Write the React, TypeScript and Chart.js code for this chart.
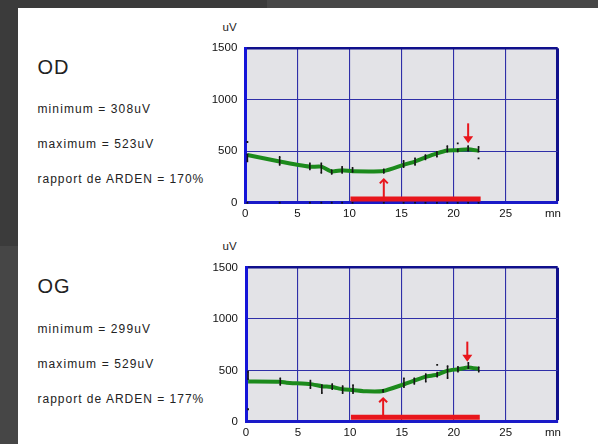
import React, { useEffect, useRef } from "react";
import { Chart, registerables } from "chart.js";
Chart.register(...registerables);

// ---------- data ----------
const xTicks = [0, 5, 10, 15, 20, 25, 30];
const xTickLabels = ["0", "5", "10", "15", "20", "25", "mn   "];
const yTicks = [0, 500, 1000, 1500];

// OD (right eye)
const odTitle = "OD";
const odStats = ["minimum = 308uV", "maximum = 523uV", "rapport de ARDEN = 170%"];
const odTimes = [0.2, 3.3, 6.2, 7.3, 8.3, 9.3, 10.3, 13.3, 15.2, 16.3, 17.3, 18.4, 19.4, 20.4, 21.4, 22.4];
const odValues = [463, 400, 350, 350, 302, 315, 305, 308, 368, 400, 440, 480, 508, 510, 520, 505];
const odErrLo = [400, 366, 324, 290, 279, 290, 298, 288, 344, 366, 421, 447, 495, 498, 505, 495];
const odErrHi = [470, 445, 382, 382, 318, 350, 340, 324, 408, 431, 463, 495, 550, 520, 550, 544];
const odDotX = [0.2, 20.4, 22.4];
const odDotY = [590, 577, 431];
const odAxisDotX = [0.2, 3.3, 6.2, 7.3, 8.3, 9.3, 10.3, 13.3, 15.2, 16.3, 17.3, 18.4, 19.4, 20.4, 21.4, 22.4];
const odLightX = [10.1, 22.6];
const odLightY = [36, 36];
const odUpX = 13.3;
const odUpY = [36, 227];
const odDownX = 21.4;
const odDownY = [771, 577];

// OG (left eye)
const ogTitle = "OG";
const ogStats = ["minimum = 299uV", "maximum = 529uV", "rapport de ARDEN = 177%"];
const ogTimes = [0.2, 3.3, 3.9, 6.2, 7.3, 8.3, 9.3, 10.3, 11.6, 13.2, 15.2, 16.2, 17.3, 18.4, 19.4, 20.4, 21.4, 22.4];
const ogValues = [392, 390, 380, 366, 346, 338, 316, 309, 296, 299, 364, 400, 439, 458, 497, 511, 529, 515];
const ogErrT = [0.2, 3.3, 6.2, 7.3, 8.3, 9.3, 10.3, 13.2, 15.2, 16.2, 17.3, 18.4, 19.4, 20.4, 21.4, 22.4];
const ogErrLo = [413, 358, 326, 277, 316, 277, 277, 290, 335, 368, 390, 439, 423, 488, 520, 488];
const ogErrHi = [488, 423, 400, 358, 368, 348, 358, 310, 423, 423, 465, 478, 543, 536, 575, 530];
const ogDotX = [0.2, 18.4];
const ogDotY = [121, 553];
const ogAxisDotX: number[] = [];
const ogLightX = [10.1, 22.5];
const ogLightY = [43, 43];
const ogUpX = 13.2;
const ogUpY = [43, 228];
const ogDownX = 21.3;
const ogDownY = [780, 585];

// ---------- styles ----------
const FONT = "'Liberation Sans', Arial, sans-serif";
const RED = "#e8161c";
const GREEN = "#1c8a1c";

function makeArrowPlugin(upX: number, upY: number[], downX: number, downY: number[]) {
  return {
    id: "redArrows",
    afterDatasetsDraw(chart: any) {
      const { ctx, scales } = chart;
      const x = scales.x;
      const y = scales.y;
      ctx.save();
      ctx.strokeStyle = RED;
      ctx.fillStyle = RED;
      ctx.lineWidth = 2;
      ctx.lineCap = "butt";
      const ux = x.getPixelForValue(upX);
      const u0 = y.getPixelForValue(upY[0]);
      const u1 = y.getPixelForValue(upY[1]);
      ctx.beginPath();
      ctx.moveTo(ux, u0);
      ctx.lineTo(ux, u1);
      ctx.stroke();
      ctx.beginPath();
      ctx.moveTo(ux - 4, u1 + 4);
      ctx.lineTo(ux, u1);
      ctx.lineTo(ux + 4, u1 + 4);
      ctx.stroke();
      const dx = x.getPixelForValue(downX);
      const d0 = y.getPixelForValue(downY[0]);
      const d1 = y.getPixelForValue(downY[1]);
      ctx.beginPath();
      ctx.moveTo(dx, d0);
      ctx.lineTo(dx, d1 - 5);
      ctx.stroke();
      ctx.beginPath();
      ctx.moveTo(dx - 5, d1 - 7);
      ctx.lineTo(dx + 5, d1 - 7);
      ctx.lineTo(dx, d1);
      ctx.closePath();
      ctx.fill();
      ctx.restore();
    },
  };
}

const bgPlugin = {
  id: "plotBg",
  beforeDraw(chart: any) {
    const { ctx, chartArea } = chart;
    ctx.save();
    ctx.fillStyle = "#e3e3e7";
    ctx.fillRect(chartArea.left, chartArea.top, chartArea.right - chartArea.left, chartArea.bottom - chartArea.top);
    ctx.restore();
  },
};

type Props = {
  left: number; top: number; width: number; height: number;
  yAxisW: number; padTop: number; padRight: number; padBottom: number;
  times: number[]; values: number[];
  errT: number[]; errLo: number[]; errHi: number[];
  dotX: number[]; dotY: number[]; axisDotX: number[];
  lightX: number[]; lightY: number[];
  upX: number; upY: number[]; downX: number; downY: number[];
};

function EogChart(p: Props) {
  const ref = useRef<HTMLCanvasElement>(null);
  useEffect(() => {
    if (!ref.current) return;
    const errData: any[] = [];
    p.errT.forEach((t, i) => {
      errData.push({ x: t, y: p.errLo[i] });
      errData.push({ x: t, y: p.errHi[i] });
      errData.push({ x: t, y: null });
    });
    const chart = new Chart(ref.current, {
      type: "line",
      data: {
        datasets: [
          {
            label: "err",
            data: errData,
            borderColor: "#151515",
            borderWidth: 1.6,
            pointRadius: 1.1,
            pointStyle: "rect",
            pointBackgroundColor: "#151515",
            pointBorderWidth: 0,
            spanGaps: false,
            order: 0,
          } as any,
          {
            label: "dots",
            data: p.dotX.map((x, i) => ({ x, y: p.dotY[i] })),
            showLine: false,
            pointRadius: 1.3,
            pointStyle: "rect",
            pointBackgroundColor: "#151515",
            pointBorderWidth: 0,
            order: 0,
          } as any,
          {
            label: "eog",
            data: p.times.map((x, i) => ({ x, y: p.values[i] })),
            borderColor: GREEN,
            borderWidth: 4,
            pointRadius: 0,
            tension: 0.15,
            order: 1,
          } as any,
          {
            label: "light",
            data: p.lightX.map((x, i) => ({ x, y: p.lightY[i] })),
            borderColor: RED,
            borderWidth: 5,
            pointRadius: 0,
            order: 2,
          } as any,
          {
            label: "axisDots",
            data: p.axisDotX.map((x) => ({ x, y: 0 })),
            showLine: false,
            pointRadius: 1.3,
            pointStyle: "rect",
            pointBackgroundColor: "#151515",
            pointBorderWidth: 0,
            clip: false,
            order: 3,
          } as any,
        ],
      },
      options: {
        animation: false,
        responsive: false,
        devicePixelRatio: 1,
        events: [],
        layout: { padding: { left: 0, top: p.padTop, right: p.padRight, bottom: p.padBottom } },
        plugins: { legend: { display: false }, tooltip: { enabled: false }, title: { display: false } },
        scales: {
          x: {
            type: "linear",
            min: 0,
            max: 30,
            afterBuildTicks: (s: any) => {
              s.ticks = xTicks.map((v) => ({ value: v }));
            },
            afterFit: (s: any) => {
              s.height = 20;
            },
            ticks: {
              autoSkip: false,
              maxRotation: 0,
              padding: 4,
              color: "#111",
              font: { family: FONT, size: 11.5 },
              callback: (v: any) => {
                const i = xTicks.indexOf(Number(v));
                return i >= 0 ? xTickLabels[i] : "";
              },
            },
            grid: {
              drawTicks: false,
              color: (c: any) => (c.tick && c.tick.value === 30 ? "#10108c" : "#2f2fa8"),
              lineWidth: (c: any) => (c.tick && c.tick.value === 30 ? 3 : 1.1),
            },
            border: { display: true, color: "#1a1ac8", width: 3 },
          },
          y: {
            type: "linear",
            min: 0,
            max: 1500,
            afterBuildTicks: (s: any) => {
              s.ticks = yTicks.map((v) => ({ value: v }));
            },
            afterFit: (s: any) => {
              s.width = p.yAxisW;
            },
            ticks: {
              padding: 8,
              color: "#111",
              font: { family: FONT, size: 11.5 },
              callback: (v: any) => String(v),
            },
            grid: {
              drawTicks: false,
              color: (c: any) => (c.tick && c.tick.value === 1500 ? "#10108c" : "#2f2fa8"),
              lineWidth: (c: any) => (c.tick && c.tick.value === 1500 ? 2.5 : 1.1),
            },
            border: { display: true, color: "#1414d8", width: 3 },
          },
        },
      } as any,
      plugins: [bgPlugin, makeArrowPlugin(p.upX, p.upY, p.downX, p.downY)],
    });
    return () => chart.destroy();
  }, []);
  return (
    <canvas
      ref={ref}
      width={p.width}
      height={p.height}
      style={{ position: "absolute", left: p.left, top: p.top, width: p.width, height: p.height }}
    />
  );
}

function Label(props: { x: number; y: number; size: number; text: string; spacing?: number }) {
  return (
    <div
      style={{
        position: "absolute",
        left: props.x,
        top: props.y,
        fontFamily: FONT,
        fontSize: props.size,
        lineHeight: props.size + "px",
        letterSpacing: (props.spacing ?? 0) + "px",
        color: "#222",
        whiteSpace: "nowrap",
      }}
    >
      {props.text}
    </div>
  );
}

export default function App() {
  return (
    <div style={{ position: "fixed", left: 0, top: 0, width: 598, height: 444, background: "#3b3b3b", overflow: "hidden" }}>
      <div style={{ position: "absolute", left: 267, top: 0, width: 331, height: 8, background: "#474747" }} />
      <div style={{ position: "absolute", left: 0, top: 246, width: 18, height: 198, background: "#464646" }} />
      <div style={{ position: "absolute", left: 18, top: 8, width: 580, height: 436, background: "#ffffff" }} />

      <Label x={37.5} y={57} size={20} text={odTitle} spacing={1} />
      <Label x={37.5} y={103.2} size={12} text={odStats[0]} spacing={1.1} />
      <Label x={37.5} y={138.4} size={12} text={odStats[1]} spacing={1.1} />
      <Label x={37.5} y={173.4} size={12} text={odStats[2]} spacing={1} />
      <Label x={222.5} y={21.5} size={11.5} text="uV" />

      <Label x={37.5} y={275.8} size={20} text={ogTitle} spacing={1} />
      <Label x={37.5} y={322.5} size={12} text={ogStats[0]} spacing={1.1} />
      <Label x={37.5} y={357.5} size={12} text={ogStats[1]} spacing={1.1} />
      <Label x={37.5} y={392.5} size={12} text={ogStats[2]} spacing={1} />
      <Label x={222.5} y={240.5} size={11.5} text="uV" />

      <EogChart
        left={195} top={15} width={400} height={212}
        yAxisW={50.3} padTop={33.3} padRight={37.3} padBottom={4.3}
        times={odTimes} values={odValues}
        errT={odTimes} errLo={odErrLo} errHi={odErrHi}
        dotX={odDotX} dotY={odDotY} axisDotX={odAxisDotX}
        lightX={odLightX} lightY={odLightY}
        upX={odUpX} upY={odUpY} downX={odDownX} downY={odDownY}
      />
      <EogChart
        left={195} top={234} width={400} height={210}
        yAxisW={51} padTop={33.7} padRight={37.3} padBottom={2.3}
        times={ogTimes} values={ogValues}
        errT={ogErrT} errLo={ogErrLo} errHi={ogErrHi}
        dotX={ogDotX} dotY={ogDotY} axisDotX={ogAxisDotX}
        lightX={ogLightX} lightY={ogLightY}
        upX={ogUpX} upY={ogUpY} downX={ogDownX} downY={ogDownY}
      />
    </div>
  );
}
